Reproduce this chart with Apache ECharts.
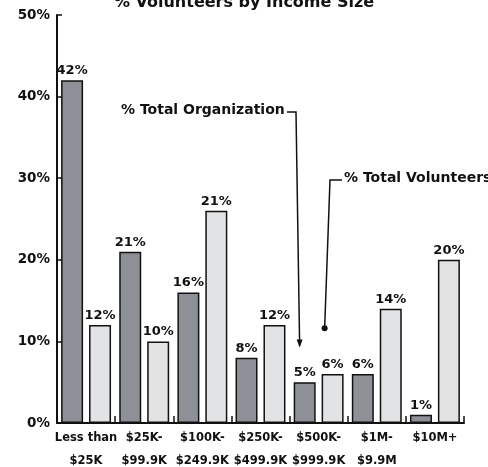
<!DOCTYPE html>
<html><head><meta charset="utf-8">
<script src="https://cdn.jsdelivr.net/npm/echarts@6/dist/echarts.min.js"></script>
<style>html,body{margin:0;padding:0;background:#fff}#c{width:488px;height:467px}</style>
</head><body><div id="c"></div>
<script>
var categories = ['Less than\n$25K', '$25K-\n$99.9K', '$100K-\n$249.9K', '$250K-\n$499.9K', '$500K-\n$999.9K', '$1M-\n$9.9M', '$10M+'];
var orgValues = [42, 21, 16, 8, 5, 6, 1];
var volValues = [12, 10, 26, 12, 6, 14, 20];
var orgLabels = ['42%', '21%', '16%', '8%', '5%', '6%', '1%'];
var volLabels = ['12%', '10%', '21%', '12%', '6%', '14%', '20%'];
var yTicks = [0, 10, 20, 30, 40, 50];
var FONT = 'DejaVu Sans';

var chart = echarts.init(document.getElementById('c'), null, {renderer: 'canvas'});
var option = {
  animation: false,
  backgroundColor: '#fff',
  title: {
    text: '% Volunteers by Income Size',
    left: 'center', top: -10,
    textStyle: {fontFamily: FONT, fontWeight: 'bold', fontSize: 16, color: '#111'}
  },
  grid: {left: 57, right: 24, top: 15, bottom: 44, containLabel: false, outerBoundsMode: 'none'},
  xAxis: {
    type: 'category',
    data: categories,
    axisLine: {lineStyle: {color: '#111', width: 2}},
    axisTick: {show: true, inside: true, length: 7, lineStyle: {color: '#111', width: 1.5}},
    axisLabel: {fontFamily: FONT, fontWeight: 'bold', fontSize: 11.5, color: '#111', lineHeight: 23, margin: 4, interval: 0}
  },
  yAxis: {
    type: 'value', min: 0, max: 50, interval: 10,
    splitLine: {show: false},
    axisLine: {show: true, lineStyle: {color: '#111', width: 2}},
    axisTick: {show: true, inside: true, length: 5, lineStyle: {color: '#111', width: 1.5}},
    axisLabel: {fontFamily: FONT, fontWeight: 'bold', fontSize: 13.5, color: '#111', margin: 7,
      formatter: function (v) { return yTicks.indexOf(v) >= 0 ? v + '%' : ''; }}
  },
  series: [
    {
      name: '% Total Organization', type: 'bar', data: orgValues,
      barWidth: 22, barGap: '27%',
      itemStyle: {color: '#8e9097', borderColor: '#111', borderWidth: 1.5},
      label: {show: true, position: 'top', distance: 3, fontFamily: FONT, fontWeight: 'bold', fontSize: 13, color: '#111',
        formatter: function (p) { return orgLabels[p.dataIndex]; }}
    },
    {
      name: '% Total Volunteers', type: 'bar', data: volValues,
      barWidth: 22,
      itemStyle: {color: '#e2e3e5', borderColor: '#111', borderWidth: 1.5},
      label: {show: true, position: 'top', distance: 3, fontFamily: FONT, fontWeight: 'bold', fontSize: 13, color: '#111',
        formatter: function (p) { return volLabels[p.dataIndex]; }}
    }
  ]
};
chart.setOption(option);

// annotation callouts, anchored through the chart's scales
var orgTip = chart.convertToPixel({xAxisIndex: 0, yAxisIndex: 0}, [categories[4], 9.5]);
var volTip = chart.convertToPixel({xAxisIndex: 0, yAxisIndex: 0}, [categories[4], 11.6]);
var ox = orgTip[0] - 19, oy = orgTip[1];
var vx = volTip[0] + 6, vy = volTip[1];
var orgTextY = 112, volTextY = 180;
chart.setOption({
  graphic: [
    {type: 'text', left: 121, top: orgTextY - 9, style: {text: '% Total Organization', font: 'bold 14px ' + FONT, fill: '#111'}},
    {type: 'polyline', shape: {points: [[287, orgTextY], [296, orgTextY], [ox, oy]]}, style: {stroke: '#111', lineWidth: 1.5, fill: null}},
    {type: 'polygon', shape: {points: [[ox - 3, oy - 6], [ox + 3, oy - 6], [ox, oy + 2]]}, style: {fill: '#111'}},
    {type: 'text', left: 344, top: volTextY - 9, style: {text: '% Total Volunteers', font: 'bold 14px ' + FONT, fill: '#111'}},
    {type: 'polyline', shape: {points: [[342, volTextY], [330, volTextY], [vx, vy]]}, style: {stroke: '#111', lineWidth: 1.5, fill: null}},
    {type: 'circle', shape: {cx: vx, cy: vy, r: 3}, style: {fill: '#111'}}
  ]
});
</script></body></html>
